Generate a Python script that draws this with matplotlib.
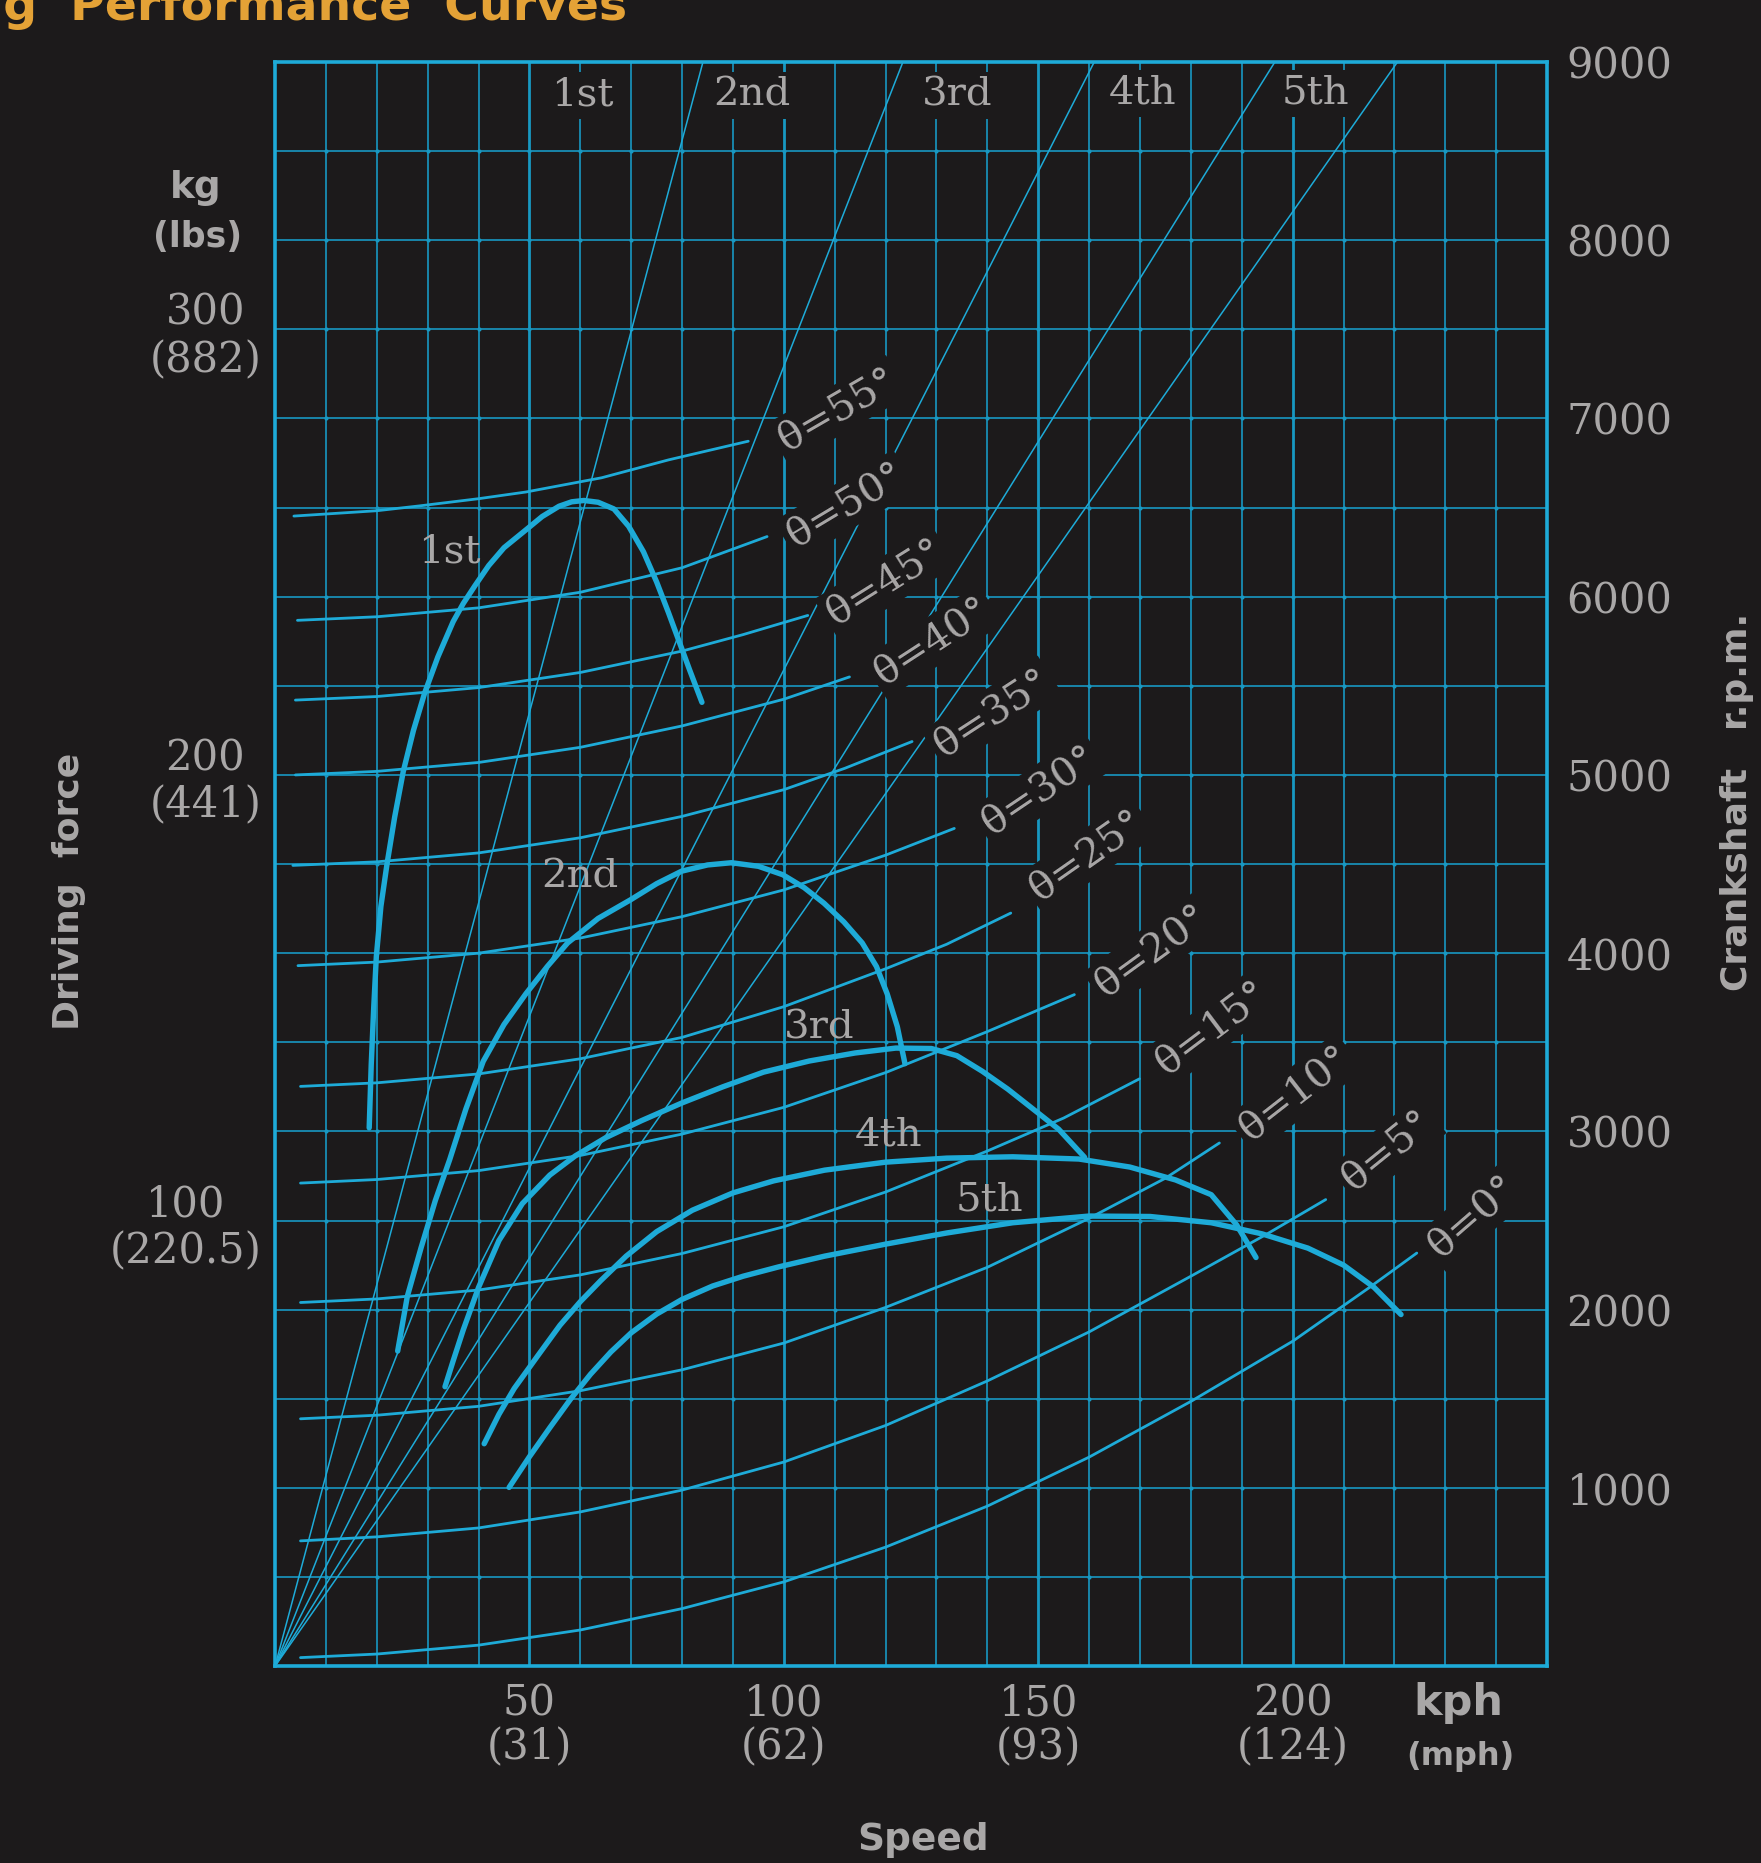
import numpy as np
import matplotlib.pyplot as plt

BG = '#1c1a1b'
CYAN = '#1eabd8'
GRID = '#1898c2'
TXT = '#a9a7a7'
SERIF = 'DejaVu Serif'
SANS = 'DejaVu Sans'

# driving force of each gear : speed (kph) -> force (kg)
v_1st = [18.5, 18.9, 19.4, 19.9, 20.8, 22.0, 23.5, 25.2, 27.2, 29.4, 32.0, 35.0, 37.0, 39.3, 42.0, 45.0,
         49.3, 52.5, 55.8, 58.3, 60.7, 63.5, 66.6, 69.5, 72.4, 75.0, 77.3, 79.4, 81.5, 83.9]
f_1st = [120.8, 135.0, 148.0, 159.2, 170.5, 180.0, 190.5, 200.8, 210.0, 218.4, 226.5, 234.4, 238.5, 242.5, 247.0, 251.0,
         255.0, 258.0, 260.3, 261.3, 261.6, 261.2, 259.7, 255.8, 250.1, 243.3, 236.5, 230.0, 223.5, 216.3]

v_2nd = [24.1, 26.0, 28.7, 31.5, 34.3, 37.5, 40.9, 45.0, 49.3, 53.5, 57.5, 63.5, 69.9, 75.0, 79.9, 85.0,
         89.7, 95.0, 99.8, 104.0, 107.9, 111.8, 115.4, 118.2, 120.3, 122.3, 123.8]
f_2nd = [70.7, 83.0, 93.9, 104.5, 113.6, 125.0, 135.7, 144.0, 150.9, 157.0, 162.3, 167.8, 172.0, 175.6, 178.4, 179.8,
         180.3, 179.5, 177.6, 174.7, 171.2, 167.0, 162.3, 157.0, 150.9, 143.5, 135.2]

v_3rd = [33.4, 35.0, 37.0, 40.0, 44.0, 48.6, 54.0, 59.0, 65.0, 72.0, 80.0, 88.0, 96.0, 105.0, 114.0, 122.0,
         129.0, 134.0, 139.0, 144.0, 149.0, 154.0, 159.1]
f_3rd = [62.7, 68.5, 75.5, 85.0, 95.5, 103.8, 110.2, 114.5, 118.6, 122.4, 126.4, 130.0, 133.3, 135.8, 137.6, 138.7,
         138.6, 137.0, 133.5, 129.5, 125.0, 120.5, 114.2]

v_4th = [41.1, 44.0, 47.0, 51.6, 56.0, 60.0, 64.0, 69.0, 75.0, 82.0, 90.0, 98.0, 108.0, 120.0, 132.0, 145.0,
         158.0, 168.0, 177.0, 184.0, 189.0, 192.8]
f_4th = [49.9, 56.5, 62.3, 69.6, 76.5, 81.8, 86.5, 92.0, 97.5, 102.3, 106.2, 108.9, 111.3, 113.1, 114.0, 114.3,
         113.8, 112.0, 109.1, 105.8, 99.0, 91.7]

v_5th = [46.0, 50.0, 54.0, 58.0, 62.0, 66.0, 70.0, 75.0, 80.0, 86.0, 92.0, 99.0, 108.0, 120.0, 132.0, 145.0,
         160.0, 172.0, 184.0, 194.0, 203.0, 210.0, 216.0, 221.3]
f_5th = [40.1, 47.0, 53.5, 59.8, 65.5, 70.5, 74.8, 79.0, 82.3, 85.3, 87.5, 89.6, 92.0, 94.7, 97.2, 99.5,
         101.0, 100.9, 99.5, 97.0, 93.8, 90.0, 85.0, 78.9]

gear_names = ['1st', '2nd', '3rd', '4th', '5th']
gear_speed = [v_1st, v_2nd, v_3rd, v_4th, v_5th]
gear_force = [f_1st, f_2nd, f_3rd, f_4th, f_5th]

# crankshaft rpm lines : speed reached at 9000 rpm in each gear
rpm_top = 9000
gear_speed_at_top = [84.1, 123.4, 161.0, 196.5, 220.6]

# running resistance on a slope of angle theta : speed (kph) -> force (kg)
theta_deg = [0, 5, 10, 15, 20, 25, 30, 35, 40, 45, 50, 55]
theta_speed = [
    [5, 20, 40, 60, 80, 100, 120, 140, 160, 180, 200, 215, 224.4],
    [5, 20, 40, 60, 80, 100, 120, 140, 160, 180, 195, 206.5],
    [5, 20, 40, 60, 80, 100, 120, 140, 160, 175, 185.6],
    [5, 20, 40, 60, 80, 100, 120, 140, 155, 169.9],
    [5, 20, 40, 60, 80, 100, 120, 140, 157.1],
    [5, 20, 40, 60, 80, 100, 120, 132, 144.6],
    [4.5, 20, 40, 60, 80, 100, 120, 133.5],
    [3.5, 20, 40, 60, 80, 100, 112, 125.2],
    [4, 20, 40, 60, 80, 100, 112.9],
    [4, 20, 40, 60, 80, 92, 104.7],
    [4.4, 20, 40, 60, 80, 96.7],
    [3.7, 20, 28.5, 40, 49.3, 64.2, 77.3, 93.0],
]
theta_force = [
    [1.9, 2.7, 4.7, 8.1, 12.9, 18.9, 26.7, 35.9, 46.9, 59.4, 72.9, 84.9, 92.7],
    [28.1, 29.0, 31.0, 34.6, 39.5, 45.8, 54.0, 64.0, 75.0, 87.5, 97.0, 104.7],
    [55.5, 56.3, 58.3, 61.8, 66.5, 72.5, 80.5, 89.5, 100.5, 109.5, 117.4],
    [81.6, 82.4, 84.4, 87.8, 92.6, 98.6, 106.4, 115.6, 123.0, 131.8],
    [108.4, 109.2, 111.2, 114.6, 119.4, 125.4, 133.2, 142.4, 150.7],
    [130.1, 130.9, 132.9, 136.3, 141.1, 148.0, 156.5, 162.0, 169.0],
    [157.2, 158.0, 160.0, 163.4, 168.2, 174.2, 182.0, 188.0],
    [179.7, 180.5, 182.5, 185.9, 190.7, 196.7, 201.5, 207.5],
    [200.0, 200.8, 202.8, 206.2, 211.0, 217.0, 222.0],
    [216.8, 217.6, 219.6, 223.0, 227.8, 231.5, 235.8],
    [234.7, 235.5, 237.5, 241.0, 246.5, 253.5],
    [258.1, 259.3, 260.4, 262.0, 263.5, 266.7, 270.7, 274.9],
]

# axis tick labels
kph_ticks = [50, 100, 150, 200]
mph_labels = ['31', '62', '93', '124']
kg_ticks = [100, 200, 300]
lbs_labels = ['220.5', '441', '882']
rpm_ticks = [1000, 2000, 3000, 4000, 5000, 6000, 7000, 8000, 9000]

# label placement (kph, kg)
theta_label_pos = [(235.5, 100.8), (218.7, 115.7), (200.5, 128.5), (184.1, 143.2),
                   (172.4, 160.5), (159.6, 181.9), (150.2, 196.5), (140.9, 213.9),
                   (129.2, 229.9), (119.9, 243.2), (112.1, 260.5), (110.5, 281.9)]
theta_label_rot = [41, 39, 38, 37, 36, 35, 34, 33, 33, 32, 31, 30]
curve_label_pos = [(34.3, 250.0), (60.0, 177.0), (107.0, 143.2), (120.6, 119.2), (140.4, 104.5)]
top_label_pos = [(60.3, 352.5), (93.7, 352.5), (134.1, 352.5), (170.6, 353.0), (204.4, 353.0)]


fig = plt.figure(figsize=(17.61, 18.63), dpi=100, facecolor=BG)
ax = fig.add_axes([0.1562, 0.1057, 0.7223, 0.861])
ax.set_facecolor(BG)
ax.set_xlim(0, 250)
ax.set_ylim(0, 360)

# grid
ax.set_xticks(kph_ticks)
ax.set_xticks(np.arange(0, 251, 10), minor=True)
ax.set_yticks(kg_ticks)
ax.set_yticks(np.arange(0, 361, 20), minor=True)
ax.grid(which='minor', color=GRID, lw=1.2)
ax.grid(which='major', axis='x', color=GRID, lw=2.0)
ax.grid(which='major', axis='y', color=GRID, lw=1.2)
ax.set_axisbelow(True)
gx, gy = np.meshgrid(np.arange(10, 250, 10), np.arange(20, 360, 20))
ax.scatter(gx.ravel(), gy.ravel(), s=9, color=GRID, lw=0, zorder=1)

ax.tick_params(which='both', length=0)
ax.set_xticklabels([f'{k}\n({m})' for k, m in zip(kph_ticks, mph_labels)],
                   fontfamily=SERIF, fontsize=30, color=TXT, linespacing=1.05)
ax.tick_params(axis='x', pad=12)
ax.set_yticklabels([f'{k}\n({l})' for k, l in zip(kg_ticks, lbs_labels)],
                   fontfamily=SERIF, fontsize=30, color=TXT, linespacing=1.15)
for t in ax.get_yticklabels():
    t.set_multialignment('center')
ax.tick_params(axis='y', pad=10)
for s in ax.spines.values():
    s.set_color(CYAN)
    s.set_linewidth(2.6)

# slope resistance curves
for sp, fo in zip(theta_speed, theta_force):
    ax.plot(sp, fo, color=CYAN, lw=2.0, zorder=3, solid_capstyle='round', solid_joinstyle='round')

# driving force curves
for sp, fo in zip(gear_speed, gear_force):
    ax.plot(sp, fo, color=CYAN, lw=3.9, zorder=4, solid_capstyle='round', solid_joinstyle='round')

# engine rpm lines on the right axis
ax2 = ax.twinx()
ax2.set_ylim(0, 9000)
ax2.set_yticks(rpm_ticks)
ax2.set_yticklabels([str(r) for r in rpm_ticks], fontfamily=SERIF, fontsize=30, color=TXT)
ax2.tick_params(length=0, pad=14)
for s in ax2.spines.values():
    s.set_visible(False)
for v in gear_speed_at_top:
    ax2.plot([0, v], [0, rpm_top], color=CYAN, lw=1.1, zorder=2)

box = dict(boxstyle='square,pad=0.12', fc=BG, ec='none')
for d, (x, y), r in zip(theta_deg, theta_label_pos, theta_label_rot):
    ax2.text(x, y, f'θ={d}°', transform=ax.transData, rotation=r, rotation_mode='anchor',
             ha='center', va='center', fontfamily=SERIF, fontsize=29, color=TXT, bbox=box, zorder=6)
for name, (x, y) in zip(gear_names, curve_label_pos):
    ax2.text(x, y, name, transform=ax.transData, ha='center', va='center',
             fontfamily=SERIF, fontsize=29, color=TXT, zorder=6)
for name, (x, y) in zip(gear_names, top_label_pos):
    ax2.text(x, y, name, transform=ax.transData, ha='center', va='center',
             fontfamily=SERIF, fontsize=29, color=TXT, bbox=box, zorder=6)

# axis titles
W, H = 1761, 1863
def ft(x, y, s, **kw):
    fig.text(x / W, 1 - y / H, s, color=TXT, fontfamily=SANS, fontweight='bold', **kw)

ft(196, 188, 'kg', fontsize=27, ha='center', va='center')
ft(198, 237, '(lbs)', fontsize=25, ha='center', va='center')
ft(69, 891, 'Driving  force', fontsize=26, ha='center', va='center', rotation=90)
ft(1737, 802, 'Crankshaft   r.p.m.', fontsize=26, ha='center', va='center', rotation=90)
ft(923, 1840, 'Speed', fontsize=27, ha='center', va='center')
ft(1458, 1703, 'kph', fontsize=31, ha='center', va='center')
ft(1460, 1756, '(mph)', fontsize=23, ha='center', va='center')
fig.text(627 / W, 1 - 20 / H, 'Climbing  Performance  Curves', color='#e4a236',
         fontfamily=SANS, fontweight='bold', fontsize=34, ha='right', va='baseline')

fig.savefig('out.png', dpi=100, facecolor=BG)
